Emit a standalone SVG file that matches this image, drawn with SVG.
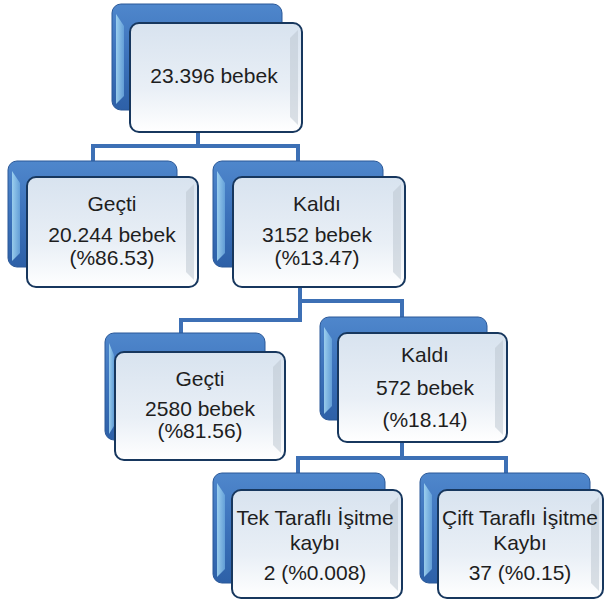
<svg xmlns="http://www.w3.org/2000/svg" width="605" height="602" viewBox="0 0 605 602">
<defs>
<linearGradient id="gBack" x1="0" y1="0" x2="0" y2="1">
<stop offset="0" stop-color="#4f87cc"/>
<stop offset="0.5" stop-color="#3c72bb"/>
<stop offset="1" stop-color="#2d60a7"/>
</linearGradient>
<linearGradient id="gFront" x1="0" y1="0" x2="0" y2="1">
<stop offset="0" stop-color="#d8e3ef"/>
<stop offset="0.6" stop-color="#e9eff6"/>
<stop offset="1" stop-color="#ffffff"/>
</linearGradient>
<linearGradient id="gBevL" x1="0" y1="0" x2="1" y2="0">
<stop offset="0" stop-color="#a9dcf5"/>
<stop offset="1" stop-color="#6aa6dc"/>
</linearGradient>
</defs>
<style>
.back{fill:url(#gBack);stroke:#2a5898;stroke-width:1}
.bevL{fill:url(#gBevL);opacity:0.85}
.front{fill:url(#gFront);stroke:#17375e;stroke-width:2}
.bevR{fill:#b9c3cd;opacity:0.5}
.conn{fill:none;stroke:#3d70b5;stroke-width:4;stroke-linejoin:miter;stroke-linecap:square}
text{font-family:"Liberation Sans",Arial,sans-serif;font-size:21px;fill:#1e1e1e;text-anchor:middle}
</style>
<g id="connectors">
<path class="conn" d="M198 132 V146 M93 162 V146 H298 V162"/>
<path class="conn" d="M300 287 V320 H181 V333 M300 301 H402 V317"/>
<path class="conn" d="M402 442 V458 M298 473 V458 H506 V473"/>
</g>
<g id="n-root">
<rect class="back" x="112" y="4" width="170" height="106" rx="9"/>
<path class="bevL" d="M116 14 L124 26 L124 96 L116 104 Z"/>
<rect class="front" x="130" y="23" width="172" height="109" rx="9"/>
<path class="bevR" d="M298 30 L298 125 L290 117 L290 38 Z"/>
<text x="214" y="83">23.396 bebek</text>
</g>
<g id="n-gecti1">
<rect class="back" x="8" y="161" width="169" height="106" rx="9"/>
<path class="bevL" d="M12 171 L20 183 L20 253 L12 261 Z"/>
<rect class="front" x="27" y="177" width="171" height="110" rx="9"/>
<path class="bevR" d="M194 184 L194 280 L186 272 L186 192 Z"/>
<text x="112" y="211">Geçti</text>
<text x="112" y="242">20.244 bebek</text>
<text x="112" y="265">(%86.53)</text>
</g>
<g id="n-kaldi1">
<rect class="back" x="213" y="161" width="170" height="106" rx="9"/>
<path class="bevL" d="M217 171 L225 183 L225 253 L217 261 Z"/>
<rect class="front" x="233" y="177" width="172" height="110" rx="9"/>
<path class="bevR" d="M401 184 L401 280 L393 272 L393 192 Z"/>
<text x="317" y="211">Kaldı</text>
<text x="317" y="242">3152 bebek</text>
<text x="317" y="265">(%13.47)</text>
</g>
<g id="n-gecti2">
<rect class="back" x="105" y="333" width="160" height="107" rx="9"/>
<path class="bevL" d="M109 343 L114 355 L114 426 L109 434 Z"/>
<rect class="front" x="115" y="352" width="170" height="108" rx="9"/>
<path class="bevR" d="M281 359 L281 453 L273 445 L273 367 Z"/>
<text x="200" y="386">Geçti</text>
<text x="200" y="416">2580 bebek</text>
<text x="200" y="438">(%81.56)</text>
</g>
<g id="n-kaldi2">
<rect class="back" x="320" y="317" width="167" height="103" rx="9"/>
<path class="bevL" d="M324 327 L332 339 L332 406 L324 414 Z"/>
<rect class="front" x="338" y="333" width="169" height="109" rx="9"/>
<path class="bevR" d="M503 340 L503 435 L495 427 L495 348 Z"/>
<text x="425" y="362">Kaldı</text>
<text x="425" y="395">572 bebek</text>
<text x="425" y="427">(%18.14)</text>
</g>
<g id="n-tek">
<rect class="back" x="213" y="473" width="172" height="110" rx="9"/>
<path class="bevL" d="M217 483 L225 495 L225 569 L217 577 Z"/>
<rect class="front" x="232" y="490" width="170" height="108" rx="9"/>
<path class="bevR" d="M398 497 L398 591 L390 583 L390 505 Z"/>
<text x="315" y="525">Tek Taraflı İşitme</text>
<text x="315" y="550">kaybı</text>
<text x="315" y="580">2 (%0.008)</text>
</g>
<g id="n-cift">
<rect class="back" x="420" y="473" width="170" height="110" rx="9"/>
<path class="bevL" d="M424 483 L432 495 L432 569 L424 577 Z"/>
<rect class="front" x="438" y="490" width="165" height="108" rx="9"/>
<path class="bevR" d="M599 497 L599 591 L591 583 L591 505 Z"/>
<text x="520" y="525">Çift Taraflı İşitme</text>
<text x="520" y="550">Kaybı</text>
<text x="520" y="580">37 (%0.15)</text>
</g>
</svg>
